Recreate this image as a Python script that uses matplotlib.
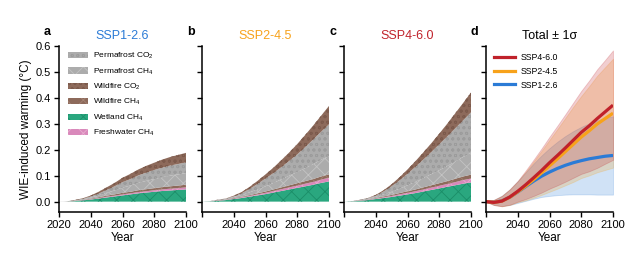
import numpy as np
import matplotlib
matplotlib.use("Agg")
import matplotlib.pyplot as plt
from matplotlib.patches import Patch
from matplotlib.lines import Line2D

plt.rcParams['font.family'] = ['Liberation Sans', 'DejaVu Sans']
plt.rcParams['mathtext.fontset'] = 'custom'
plt.rcParams['mathtext.rm'] = 'Liberation Sans'
plt.rcParams['mathtext.it'] = 'Liberation Sans:italic'
plt.rcParams['hatch.linewidth'] = 0.6

years = np.arange(2020, 2101, 5)

# stacked components (°C), order bottom -> top
wetland = {
    'SSP1-2.6': [0, 0.000, 0.002, 0.005, 0.008, 0.012, 0.016, 0.020, 0.024, 0.028, 0.032, 0.035, 0.038, 0.041, 0.043, 0.045, 0.047],
    'SSP2-4.5': [0, 0.001, 0.003, 0.006, 0.010, 0.014, 0.019, 0.024, 0.029, 0.035, 0.041, 0.047, 0.053, 0.059, 0.065, 0.072, 0.078],
    'SSP4-6.0': [0, 0.001, 0.003, 0.006, 0.010, 0.014, 0.018, 0.023, 0.028, 0.033, 0.039, 0.045, 0.051, 0.057, 0.063, 0.069, 0.074],
}
freshwater = {
    'SSP1-2.6': [0, 0, 0.0005, 0.001, 0.0015, 0.002, 0.003, 0.003, 0.004, 0.004, 0.005, 0.005, 0.006, 0.006, 0.007, 0.007, 0.008],
    'SSP2-4.5': [0, 0, 0.001, 0.001, 0.002, 0.003, 0.003, 0.004, 0.005, 0.006, 0.007, 0.008, 0.009, 0.010, 0.011, 0.013, 0.014],
    'SSP4-6.0': [0, 0, 0.001, 0.001, 0.002, 0.003, 0.004, 0.005, 0.006, 0.007, 0.008, 0.009, 0.010, 0.011, 0.012, 0.014, 0.015],
}
wildfire_ch4 = {
    'SSP1-2.6': [0, 0, 0.001, 0.001, 0.002, 0.003, 0.004, 0.005, 0.006, 0.006, 0.007, 0.008, 0.008, 0.009, 0.009, 0.010, 0.010],
    'SSP2-4.5': [0, 0, 0.001, 0.001, 0.002, 0.002, 0.003, 0.004, 0.005, 0.006, 0.007, 0.008, 0.009, 0.010, 0.011, 0.012, 0.013],
    'SSP4-6.0': [0, 0, 0.001, 0.001, 0.002, 0.003, 0.004, 0.005, 0.006, 0.007, 0.008, 0.009, 0.010, 0.011, 0.013, 0.014, 0.015],
}
permafrost_ch4 = {
    'SSP1-2.6': [0, 0.0005, 0.001, 0.002, 0.004, 0.007, 0.011, 0.015, 0.020, 0.024, 0.028, 0.032, 0.035, 0.038, 0.041, 0.043, 0.045],
    'SSP2-4.5': [0, 0.0005, 0.001, 0.002, 0.004, 0.007, 0.011, 0.015, 0.020, 0.025, 0.031, 0.037, 0.043, 0.050, 0.057, 0.064, 0.071],
    'SSP4-6.0': [0, 0.0005, 0.001, 0.002, 0.005, 0.008, 0.012, 0.017, 0.023, 0.029, 0.036, 0.043, 0.050, 0.058, 0.066, 0.075, 0.085],
}
permafrost_co2 = {
    'SSP1-2.6': [0, 0.0005, 0.001, 0.002, 0.004, 0.007, 0.011, 0.016, 0.021, 0.025, 0.029, 0.032, 0.035, 0.037, 0.039, 0.040, 0.041],
    'SSP2-4.5': [0, 0.0005, 0.001, 0.001, 0.002, 0.006, 0.013, 0.021, 0.030, 0.038, 0.047, 0.057, 0.068, 0.081, 0.095, 0.108, 0.122],
    'SSP4-6.0': [0, 0.0005, 0.0005, 0.003, 0.004, 0.011, 0.021, 0.032, 0.044, 0.058, 0.071, 0.085, 0.100, 0.114, 0.128, 0.141, 0.155],
}
wildfire_co2 = {
    'SSP1-2.6': [0, 0, 0.001, 0.002, 0.004, 0.007, 0.010, 0.013, 0.017, 0.020, 0.023, 0.026, 0.028, 0.031, 0.033, 0.035, 0.037],
    'SSP2-4.5': [0, 0, 0.0005, 0.001, 0.003, 0.005, 0.008, 0.012, 0.016, 0.021, 0.027, 0.033, 0.040, 0.047, 0.054, 0.062, 0.071],
    'SSP4-6.0': [0, 0, 0.0005, 0.001, 0.003, 0.005, 0.008, 0.012, 0.017, 0.022, 0.028, 0.034, 0.041, 0.049, 0.058, 0.067, 0.077],
}

# panel d: total mean and 1 sigma
total_mean = {
    'SSP1-2.6': [0, -0.003, 0.003, 0.017, 0.037, 0.058, 0.079, 0.098, 0.114, 0.128, 0.140, 0.150, 0.158, 0.165, 0.170, 0.175, 0.178],
    'SSP2-4.5': [0, -0.003, 0.002, 0.017, 0.038, 0.060, 0.085, 0.111, 0.138, 0.165, 0.193, 0.221, 0.249, 0.273, 0.299, 0.320, 0.341],
    'SSP4-6.0': [0, -0.003, 0.002, 0.018, 0.040, 0.065, 0.092, 0.120, 0.150, 0.178, 0.207, 0.237, 0.267, 0.292, 0.320, 0.346, 0.372],
}
total_sd = {
    'SSP1-2.6': [0, 0.010, 0.020, 0.030, 0.042, 0.055, 0.068, 0.080, 0.092, 0.103, 0.113, 0.122, 0.130, 0.137, 0.143, 0.148, 0.151],
    'SSP2-4.5': [0, 0.010, 0.020, 0.030, 0.040, 0.055, 0.070, 0.085, 0.100, 0.115, 0.130, 0.145, 0.158, 0.172, 0.186, 0.198, 0.210],
    'SSP4-6.0': [0, 0.010, 0.020, 0.030, 0.040, 0.055, 0.070, 0.085, 0.100, 0.115, 0.130, 0.145, 0.160, 0.175, 0.190, 0.200, 0.211],
}

scenarios = ['SSP1-2.6', 'SSP2-4.5', 'SSP4-6.0']
scen_colors = {'SSP1-2.6': '#2b7bd6', 'SSP2-4.5': '#f7a21b', 'SSP4-6.0': '#c0222b'}

# (data, label, facecolor, hatchcolor, hatch) bottom -> top
layers = [
    (wetland, 'Wetland CH$_4$', '#2aa77f', '#1b8d68', 'xx'),
    (freshwater, 'Freshwater CH$_4$', '#d989bb', '#e9acd0', 'xx'),
    (wildfire_ch4, 'Wildfire CH$_4$', '#8d6a5b', '#a48373', 'xx'),
    (permafrost_ch4, 'Permafrost CH$_4$', '#acacac', '#c4c4c4', 'xx'),
    (permafrost_co2, 'Permafrost CO$_2$', '#acacac', '#9c9c9c', 'ooo'),
    (wildfire_co2, 'Wildfire CO$_2$', '#8d6a5b', '#7c5a4c', 'ooo'),
]
legend_order = [4, 3, 5, 2, 0, 1]

fig = plt.figure(figsize=(6.4, 2.65), dpi=100)
lefts = [59, 202, 344, 486]
axes = [fig.add_axes([l / 640, 1 - 212 / 265, 127 / 640, 166 / 265]) for l in lefts]

for i, ax in enumerate(axes):
    ax.spines[['top', 'right']].set_visible(False)
    ax.spines[['left', 'bottom']].set_linewidth(1.1)
    ax.set_xlim(2020, 2100)
    ax.set_ylim(-0.04, 0.6)
    ax.set_xticks([2020, 2040, 2060, 2080, 2100])
    ax.set_yticks([0.0, 0.1, 0.2, 0.3, 0.4, 0.5, 0.6])
    ax.tick_params(direction='out', length=3.5, width=1, labelsize=8, pad=2)
    ax.set_xlabel('Year', fontsize=8.5, labelpad=2)
    if i == 0:
        ax.set_yticklabels(['0.0', '0.1', '0.2', '0.3', '0.4', '0.5', '0.6'])
        ax.set_ylabel('WIE-induced warming (°C)', fontsize=8.5, labelpad=3)
    else:
        ax.set_yticklabels([])
        ax.set_xticklabels(['', '2040', '2060', '2080', '2100'])
    ax.text(-0.09, 1.05, 'abcd'[i], transform=ax.transAxes, fontsize=9,
            fontweight='bold', ha='center', va='bottom')

# panels a-c: stacked contributions
for ax, s in zip(axes[:3], scenarios):
    base = np.zeros(len(years))
    for data, label, fc, hc, hatch in layers:
        top = base + np.array(data[s])
        ax.fill_between(years, base, top, facecolor=fc, edgecolor=hc,
                        hatch=hatch, linewidth=0)
        base = top
    ax.set_title(s, color=scen_colors[s], fontsize=9, pad=5)

handles = []
for k in legend_order:
    data, label, fc, hc, hatch = layers[k]
    handles.append(Patch(facecolor=fc, edgecolor=hc, hatch=hatch, linewidth=0, label=label))
axes[0].legend(handles=handles, loc='upper left', bbox_to_anchor=(0.03, 1.0),
               frameon=False, fontsize=6, handlelength=2.4, handleheight=0.75,
               labelspacing=0.62, handletextpad=0.6, borderaxespad=0.2)

# panel d: totals with 1 sigma
axd = axes[3]
for s in scenarios:
    m = np.array(total_mean[s])
    sd = np.array(total_sd[s])
    axd.fill_between(years, m - sd, m + sd, color=scen_colors[s], alpha=0.22, linewidth=0.6)
for s in scenarios:
    axd.plot(years, total_mean[s], color=scen_colors[s], lw=2.3, solid_capstyle='butt')
axd.set_title('Total ± 1σ', fontsize=9, pad=5)
line_handles = [Line2D([], [], color=scen_colors[s], lw=2.3, label=s) for s in scenarios[::-1]]
axd.legend(handles=line_handles, loc='upper left', bbox_to_anchor=(0.02, 0.99),
           frameon=False, fontsize=6.3, handlelength=2.4, labelspacing=0.55,
           handletextpad=0.7, borderaxespad=0.2)

fig.savefig('out.png', dpi=100)
